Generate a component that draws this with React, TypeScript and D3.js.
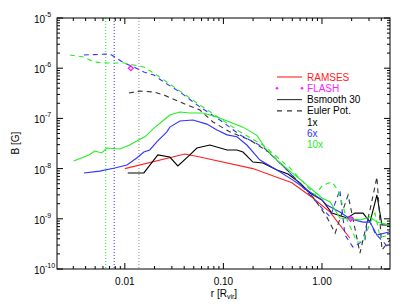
import React from 'react';
import * as d3 from 'd3';

type Pt = [number, number];

// r [R_vir], B [G]
const ramses: Pt[] = [
  [0.01, 1.0e-8], [0.0406, 1.95e-8], [0.0577, 1.7e-8], [0.199, 1.0e-8],
  [0.495, 5.2e-9], [0.81, 2.6e-9], [1.21, 1.36e-9], [1.92, 4.1e-10]
];

const flash: Pt[] = [[0.0115, 1.0e-6], [1.95, 1.0e-9]];

const bsmooth1x: Pt[] = [
  [0.0107, 8.2e-9], [0.0156, 8.2e-9], [0.0216, 1.87e-8], [0.0286, 1.7e-8],
  [0.0345, 1.13e-8], [0.0457, 1.87e-8], [0.0538, 2.57e-8], [0.0729, 2.95e-8],
  [0.109, 2.35e-8], [0.137, 2.35e-8], [0.158, 2.14e-8], [0.199, 1.35e-8],
  [0.252, 1.29e-8], [0.349, 9.4e-9], [0.452, 7.8e-9], [0.598, 5.2e-9],
  [0.755, 3.27e-9], [1.0, 2.37e-9], [1.26, 1.3e-9], [1.8, 1.04e-9],
  [2.16, 1.3e-9], [2.61, 1.3e-9], [3.07, 8.6e-10], [3.61, 2.98e-9],
  [4.06, 7.5e-10], [4.9, 7.5e-10]
];

const euler1x: Pt[] = [
  [0.011, 3.21e-7], [0.0142, 3.5e-7], [0.0197, 3.36e-7], [0.0249, 2.93e-7],
  [0.0362, 2.12e-7], [0.0577, 1.47e-7], [0.0782, 8.5e-8], [0.116, 5.4e-8],
  [0.186, 3.7e-8], [0.297, 2.05e-8], [0.473, 8.2e-9], [0.81, 2.72e-9],
  [1.12, 1.09e-9], [1.36, 5.2e-10], [1.84, 2.98e-9], [2.43, 2.08e-10],
  [3.07, 1.5e-9], [3.61, 6.8e-9], [4.06, 2.39e-10], [4.9, 3.8e-10]
];

const bsmooth6x: Pt[] = [
  [0.00384, 8.2e-9], [0.00557, 8.9e-9], [0.00791, 1.03e-8], [0.0105, 1.18e-8],
  [0.0132, 1.63e-8], [0.0156, 2.14e-8], [0.0179, 2.35e-8], [0.0211, 3.4e-8],
  [0.0267, 5.4e-8], [0.0286, 6.7e-8], [0.0362, 8.9e-8], [0.049, 9.3e-8],
  [0.068, 7.7e-8], [0.0859, 5.9e-8], [0.109, 4.7e-8], [0.137, 4.3e-8],
  [0.173, 2.95e-8], [0.235, 1.48e-8], [0.349, 9.4e-9], [0.508, 5.9e-9],
  [0.705, 3.75e-9], [1.0, 2.37e-9], [1.12, 1.88e-9], [1.52, 1.36e-9],
  [1.92, 1.0e-9], [2.61, 8.6e-10], [3.07, 8.6e-10], [3.61, 4.75e-10],
  [4.9, 5.5e-10]
];

const euler6x: Pt[] = [
  [0.00384, 1.83e-6], [0.00705, 1.92e-6], [0.00791, 1.67e-6], [0.00977, 1.27e-6],
  [0.0123, 1.06e-6], [0.0156, 8.4e-7], [0.0197, 7.3e-7], [0.0249, 5.3e-7],
  [0.0362, 3.36e-7], [0.0577, 1.69e-7], [0.0921, 9.3e-8], [0.147, 4.7e-8],
  [0.252, 2.69e-8], [0.442, 9.4e-9], [0.755, 2.98e-9], [1.21, 1.09e-9],
  [1.52, 3.75e-9], [1.71, 4.75e-10], [2.06, 2.74e-10], [2.73, 3.8e-10],
  [2.93, 1.09e-9], [3.45, 5.2e-10], [4.68, 2.74e-10]
];

const bsmooth10x: Pt[] = [
  [0.00303, 1.42e-8], [0.00431, 1.87e-8], [0.00496, 2.24e-8], [0.00584, 2.05e-8],
  [0.00656, 2.57e-8], [0.00889, 2.45e-8], [0.0112, 2.95e-8], [0.0132, 3.55e-8],
  [0.016, 4.3e-8], [0.0197, 6.4e-8], [0.0249, 9.3e-8], [0.0286, 1.17e-7],
  [0.0362, 1.34e-7], [0.0457, 1.28e-7], [0.0619, 1.28e-7], [0.0859, 1.07e-7],
  [0.116, 8.5e-8], [0.158, 6.7e-8], [0.219, 4.6e-8], [0.264, 2.6e-8],
  [0.349, 1.48e-8], [0.473, 8.9e-9], [0.705, 4.7e-9], [1.0, 2.6e-9],
  [1.21, 2.16e-9], [1.52, 1.04e-9], [1.92, 1.0e-9], [2.43, 9.5e-10],
  [3.07, 1.09e-9], [3.61, 8.6e-10], [4.9, 7.5e-10]
];

const euler10x: Pt[] = [
  [0.00277, 1.83e-6], [0.00384, 1.67e-6], [0.00484, 1.33e-6], [0.00656, 1.27e-6],
  [0.00977, 1.27e-6], [0.0123, 1.16e-6], [0.0156, 1.06e-6], [0.0211, 7.3e-7],
  [0.0267, 5.3e-7], [0.0577, 1.85e-7], [0.147, 5.4e-8], [0.252, 2.95e-8],
  [0.473, 1.03e-8], [0.85, 2.98e-9], [1.02, 4.7e-9], [1.26, 5.4e-9],
  [1.45, 3.75e-9], [1.8, 9.5e-10], [2.27, 3.45e-10], [2.61, 3.45e-10],
  [3.07, 8.2e-10], [3.45, 1.3e-9], [3.88, 4.3e-10], [4.9, 4.75e-10]
];

// resolution limits (dotted verticals)
const resLimits = [0.0064, 0.0078, 0.0139];
const resColors = ['#22ee22', '#3333ff', '#888888'];

const legendLines = ['RAMSES', 'FLASH', 'Bsmooth 30', 'Euler Pot.'];
const legendRes = ['1x', '6x', '10x'];

const RED = '#ff2222';
const MAGENTA = '#ff22ff';
const BLUE = '#3333ff';
const GREEN = '#22ee22';
const BLACK = '#000000';
const DARK = '#333333';

export default function App() {
  const W = 407;
  const H = 306;
  const left = 57, right = 390, top = 18, bottom = 269;

  const x = d3.scaleLog().domain([0.00205, 4.9]).range([left, right]);
  const y = d3.scaleLog().domain([1e-10, 1e-5]).range([bottom, top]);

  const line = d3
    .line<Pt>()
    .x(d => x(d[0]))
    .y(d => y(d[1]))
    .curve(d3.curveLinear);

  const isMajor = (v: number) => Math.abs(Math.log10(v) - Math.round(Math.log10(v))) < 1e-6;

  const xTicks = x.ticks();
  const yTicks = y.ticks();

  const series = [
    { d: ramses, c: RED, dash: undefined },
    { d: bsmooth1x, c: BLACK, dash: undefined },
    { d: euler1x, c: DARK, dash: '5,4' },
    { d: bsmooth6x, c: BLUE, dash: undefined },
    { d: euler6x, c: BLUE, dash: '5,4' },
    { d: bsmooth10x, c: GREEN, dash: undefined },
    { d: euler10x, c: GREEN, dash: '5,4' }
  ];

  const diamond = (cx: number, cy: number, s: number) =>
    `M${cx},${cy - s}L${cx + s},${cy}L${cx},${cy + s}L${cx - s},${cy}Z`;

  const fontFamily = 'Liberation Sans, Arial, sans-serif';
  const legX0 = 277, legX1 = 302, legText = 307, legY = 77, legDy = 11.3;

  return (
    <svg
      width={W}
      height={H}
      viewBox={`0 0 ${W} ${H}`}
      style={{ position: 'absolute', left: 0, top: 0, background: '#fff' }}
      fontFamily={fontFamily}
    >
      <rect x={0} y={0} width={W} height={H} fill="#fff" />

      {/* dotted resolution lines */}
      {resLimits.map((r, i) => (
        <line
          key={i}
          x1={x(r)}
          x2={x(r)}
          y1={top}
          y2={bottom}
          stroke={resColors[i]}
          strokeWidth={1}
          strokeDasharray="1,2"
        />
      ))}

      {/* curves */}
      {series.map((s, i) => (
        <path
          key={i}
          d={line(s.d) || ''}
          fill="none"
          stroke={s.c}
          strokeWidth={1.1}
          strokeDasharray={s.dash}
        />
      ))}

      {/* FLASH points */}
      {flash.map((d, i) => (
        <path key={i} d={diamond(x(d[0]), y(d[1]), 2.5)} fill="none" stroke={MAGENTA} strokeWidth={1.3} />
      ))}

      {/* frame */}
      <rect x={left} y={top} width={right - left} height={bottom - top} fill="none" stroke="#000" strokeWidth={1} />

      {/* x ticks, bottom and top */}
      {xTicks.map((t, i) => {
        const len = isMajor(t) ? 6 : 3;
        const px = x(t);
        return (
          <g key={i}>
            <line x1={px} x2={px} y1={bottom} y2={bottom - len} stroke="#000" />
            <line x1={px} x2={px} y1={top} y2={top + len} stroke="#000" />
            {isMajor(t) ? (
              <text x={px} y={285} fontSize={10} textAnchor="middle" fill="#000">
                {t.toFixed(2)}
              </text>
            ) : null}
          </g>
        );
      })}

      {/* y ticks, left and right */}
      {yTicks.map((t, i) => {
        const len = isMajor(t) ? 6 : 3;
        const py = y(t);
        return (
          <g key={i}>
            <line x1={left} x2={left + len} y1={py} y2={py} stroke="#000" />
            <line x1={right} x2={right - len} y1={py} y2={py} stroke="#000" />
            {isMajor(t) ? (
              <text x={45} y={py + 5} fontSize={10} textAnchor="end" fill="#000">
                10
                <tspan x={45} dy={-6} fontSize={7} textAnchor="start">
                  {Math.round(Math.log10(t))}
                </tspan>
              </text>
            ) : null}
          </g>
        );
      })}

      {/* axis titles */}
      <text x={224} y={297} fontSize={10} textAnchor="middle" fill="#000">
        r [R<tspan fontSize={7} dy={2}>vir</tspan>
        <tspan dy={-2}>]</tspan>
      </text>
      <text
        transform={`translate(19,143) rotate(-90)`}
        fontSize={10}
        textAnchor="middle"
        fill="#000"
      >
        B [G]
      </text>

      {/* legend */}
      <line x1={legX0} x2={legX1} y1={legY} y2={legY} stroke={RED} strokeWidth={1.1} />
      <circle cx={legX0} cy={legY + legDy} r={1.3} fill={MAGENTA} />
      <circle cx={legX1} cy={legY + legDy} r={1.3} fill={MAGENTA} />
      <line x1={legX0} x2={legX1} y1={legY + 2 * legDy} y2={legY + 2 * legDy} stroke={DARK} strokeWidth={1.1} />
      <line
        x1={legX0}
        x2={legX1}
        y1={legY + 3 * legDy}
        y2={legY + 3 * legDy}
        stroke={DARK}
        strokeWidth={1.1}
        strokeDasharray="5,5"
      />
      {legendLines.map((s, i) => (
        <text
          key={s}
          x={legText}
          y={legY + i * legDy + 3.5}
          fontSize={10}
          fill={i === 0 ? RED : i === 1 ? MAGENTA : '#000'}
        >
          {s}
        </text>
      ))}
      {legendRes.map((s, i) => (
        <text
          key={s}
          x={legText}
          y={legY + (4 + i) * legDy + 3.5}
          fontSize={10}
          fill={i === 0 ? '#000' : i === 1 ? BLUE : GREEN}
        >
          {s}
        </text>
      ))}
    </svg>
  );
}
